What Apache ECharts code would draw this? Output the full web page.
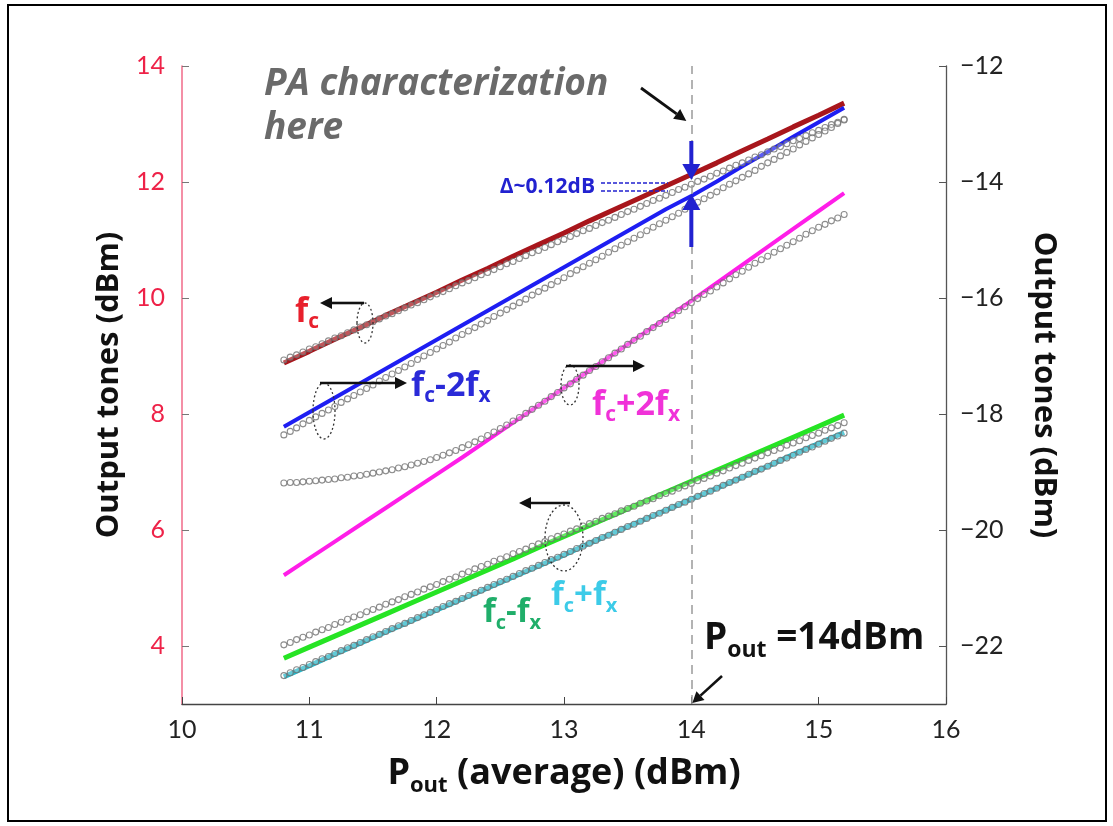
<!DOCTYPE html>
<html><head><meta charset="utf-8">
<script src="https://cdn.jsdelivr.net/npm/echarts@6/dist/echarts.min.js"></script>
<style>html,body{margin:0;padding:0;background:#fff}#c{width:1113px;height:826px}</style>
</head><body><div id="c"></div>
<script>
// ---------- DATA ----------
const xMeas = [10.8,11.0,11.2,11.4,11.6,11.8,12.0,12.2,12.4,12.6,12.8,13.0,13.2,13.4,13.6,13.8,14.0,14.2,14.4,14.6,14.8,15.0,15.2];
// measured tones
const fcMeas    = [8.88,9.08,9.29,9.49,9.70,9.90,10.10,10.31,10.51,10.72,10.92,11.12,11.33,11.53,11.73,11.93,12.13,12.33,12.54,12.74,12.95,13.15,13.36];           // left axis
const fcm2xMeas = [-18.22,-17.97,-17.72,-17.47,-17.22,-16.97,-16.72,-16.47,-16.22,-15.97,-15.72,-15.47,-15.22,-14.97,-14.72,-14.47,-14.24,-13.99,-13.73,-13.48,-13.22,-12.97,-12.72]; // right axis
const fcp2xMeas = [-20.78,-20.49,-20.20,-19.91,-19.62,-19.33,-19.04,-18.75,-18.45,-18.15,-17.85,-17.55,-17.25,-16.95,-16.65,-16.35,-16.05,-15.74,-15.43,-15.12,-14.81,-14.50,-14.19]; // right axis
const fcmxMeas  = [3.79,3.98,4.17,4.36,4.55,4.74,4.93,5.12,5.31,5.50,5.70,5.89,6.08,6.27,6.46,6.65,6.84,7.03,7.22,7.41,7.60,7.79,7.98];                   // left axis
const fcpxMeas  = [3.47,3.66,3.86,4.05,4.24,4.43,4.62,4.81,5.00,5.19,5.38,5.57,5.77,5.96,6.15,6.34,6.53,6.72,6.91,7.10,7.30,7.49,7.68];                   // left axis

const xSim = [10.8,10.85,10.9,10.95,11,11.05,11.1,11.15,11.2,11.25,11.3,11.35,11.4,11.45,11.5,11.55,11.6,11.65,11.7,11.75,
11.8,11.85,11.9,11.95,12,12.05,12.1,12.15,12.2,12.25,12.3,12.35,12.4,12.45,12.5,12.55,12.6,12.65,12.7,12.75,
12.8,12.85,12.9,12.95,13,13.05,13.1,13.15,13.2,13.25,13.3,13.35,13.4,13.45,13.5,13.55,13.6,13.65,13.7,13.75,
13.8,13.85,13.9,13.95,14,14.05,14.1,14.15,14.2,14.25,14.3,14.35,14.4,14.45,14.5,14.55,14.6,14.65,14.7,14.75,
14.8,14.85,14.9,14.95,15,15.05,15.1,15.15,15.2];
// simulated tones (circles)
const fcSim = [8.93,8.98,9.02,9.07,9.12,9.16,9.21,9.26,9.31,9.35,
9.40,9.45,9.50,9.54,9.59,9.64,9.69,9.73,9.78,9.83,
9.88,9.92,9.97,10.02,10.07,10.11,10.16,10.21,10.26,10.30,
10.35,10.40,10.44,10.49,10.54,10.59,10.63,10.68,10.73,10.78,
10.82,10.87,10.92,10.97,11.01,11.06,11.11,11.16,11.20,11.25,
11.30,11.34,11.39,11.44,11.49,11.53,11.58,11.63,11.68,11.72,
11.77,11.82,11.87,11.91,11.96,12.01,12.05,12.10,12.15,12.19,
12.24,12.29,12.33,12.38,12.43,12.47,12.52,12.57,12.61,12.66,
12.71,12.75,12.80,12.85,12.89,12.94,12.99,13.03,13.08];
const fcm2xSim = [-18.36,-18.30,-18.24,-18.17,-18.11,-18.05,-17.99,-17.93,-17.87,-17.80,
-17.74,-17.68,-17.62,-17.56,-17.50,-17.43,-17.37,-17.31,-17.25,-17.19,
-17.13,-17.06,-17.00,-16.94,-16.88,-16.82,-16.76,-16.69,-16.63,-16.57,
-16.51,-16.45,-16.39,-16.32,-16.26,-16.20,-16.14,-16.08,-16.02,-15.95,
-15.89,-15.83,-15.77,-15.71,-15.65,-15.58,-15.52,-15.46,-15.40,-15.34,
-15.28,-15.21,-15.15,-15.09,-15.03,-14.97,-14.91,-14.84,-14.78,-14.72,
-14.66,-14.60,-14.54,-14.47,-14.41,-14.35,-14.29,-14.23,-14.17,-14.10,
-14.04,-13.98,-13.92,-13.86,-13.80,-13.73,-13.67,-13.61,-13.55,-13.49,
-13.43,-13.36,-13.30,-13.24,-13.18,-13.12,-13.06,-12.99,-12.93];
const fcp2xSim = [-19.19,-19.18,-19.18,-19.17,-19.16,-19.15,-19.14,-19.13,-19.12,-19.10,
-19.09,-19.07,-19.06,-19.04,-19.02,-19.00,-18.98,-18.96,-18.93,-18.91,
-18.88,-18.85,-18.82,-18.79,-18.75,-18.71,-18.67,-18.63,-18.58,-18.53,
-18.48,-18.43,-18.37,-18.31,-18.25,-18.19,-18.12,-18.06,-17.99,-17.92,
-17.85,-17.78,-17.70,-17.63,-17.55,-17.48,-17.40,-17.33,-17.25,-17.18,
-17.10,-17.03,-16.95,-16.88,-16.80,-16.73,-16.66,-16.58,-16.51,-16.44,
-16.37,-16.30,-16.22,-16.15,-16.08,-16.01,-15.94,-15.88,-15.81,-15.74,
-15.67,-15.60,-15.54,-15.47,-15.40,-15.34,-15.28,-15.21,-15.15,-15.09,
-15.03,-14.97,-14.90,-14.84,-14.78,-14.73,-14.67,-14.62,-14.56];
const fcmxSim = [4.02,4.06,4.11,4.15,4.19,4.24,4.28,4.32,4.37,4.41,
4.46,4.50,4.54,4.59,4.63,4.67,4.72,4.76,4.80,4.85,
4.89,4.93,4.98,5.02,5.06,5.11,5.15,5.19,5.24,5.28,
5.33,5.37,5.41,5.46,5.50,5.54,5.59,5.63,5.67,5.72,
5.76,5.80,5.85,5.89,5.93,5.98,6.02,6.07,6.11,6.15,
6.20,6.24,6.28,6.33,6.37,6.41,6.46,6.50,6.54,6.59,
6.63,6.67,6.72,6.76,6.80,6.85,6.89,6.93,6.98,7.02,
7.07,7.11,7.15,7.20,7.24,7.28,7.33,7.37,7.41,7.46,
7.50,7.54,7.59,7.63,7.67,7.72,7.76,7.80,7.85];
const fcpxSim = [3.49,3.54,3.59,3.63,3.68,3.73,3.78,3.82,3.87,3.92,
3.97,4.01,4.06,4.11,4.16,4.20,4.25,4.30,4.35,4.39,
4.44,4.49,4.54,4.58,4.63,4.68,4.73,4.77,4.82,4.87,
4.92,4.96,5.01,5.06,5.11,5.15,5.20,5.25,5.30,5.34,
5.39,5.44,5.49,5.53,5.58,5.63,5.68,5.72,5.77,5.82,
5.87,5.91,5.96,6.01,6.06,6.10,6.15,6.20,6.25,6.29,
6.34,6.39,6.44,6.48,6.53,6.58,6.63,6.67,6.72,6.77,
6.82,6.86,6.91,6.96,7.01,7.05,7.10,7.15,7.20,7.24,
7.29,7.34,7.39,7.43,7.48,7.53,7.58,7.62,7.67];

const leftTicks  = [4,6,8,10,12,14];
const rightTicks = [-22,-20,-18,-16,-14,-12];
const markerX = 14;

// ---------- CHART ----------
const TICKFONT = 'Lato, "Open Sans", sans-serif';
const FONT = '"Open Sans", Lato, sans-serif';
const pairs = (xs, ys) => xs.map((x, i) => [x, ys[i]]);
const chart = echarts.init(document.getElementById('c'), null, {renderer: 'canvas'});

function measLine(name, xs, ys, color, w, yIdx, z) {
  return {name, type: 'line', data: pairs(xs, ys), yAxisIndex: yIdx, showSymbol: false, smooth: false,
    lineStyle: {color, width: w}, itemStyle: {color}, z: z || 2, silent: true};
}
function simDots(name, xs, ys, yIdx) {
  return {name, type: 'scatter', data: pairs(xs, ys), yAxisIndex: yIdx, symbol: 'circle', symbolSize: 6,
    itemStyle: {color: 'rgba(255,255,255,0.35)', borderColor: '#6f6f6f', borderWidth: 1.1}, z: 4, silent: true};
}

const option = {
  animation: false,
  backgroundColor: '#ffffff',
  grid: {left: 182, right: 167, top: 66, bottom: 122},
  xAxis: {
    type: 'value', min: 10, max: 16, interval: 1,
    axisLine: {lineStyle: {color: '#444', width: 1.3}},
    axisTick: {inside: true, length: 7, lineStyle: {color: '#444'}},
    axisLabel: {color: '#222', fontSize: 25, fontFamily: TICKFONT, margin: 13},
    splitLine: {show: false},
    name: '{b|P}{s|out}{b| (average) (dBm)}', nameLocation: 'middle', nameGap: 47,
    nameTextStyle: {rich: {
      b: {fontSize: 36, fontWeight: 'bold', color: '#111', fontFamily: FONT},
      s: {fontSize: 22, fontWeight: 'bold', color: '#111', fontFamily: FONT, padding: [24, 0, 0, 0]}
    }}
  },
  yAxis: [
    {type: 'value', position: 'left', min: 3, max: 14,
     axisLine: {show: true, lineStyle: {color: '#f06a88', width: 1.5}},
     axisTick: {show: true, inside: true, length: 7, customValues: leftTicks, lineStyle: {color: '#777'}},
     axisLabel: {customValues: leftTicks, color: '#ee2248', fontSize: 25, fontFamily: TICKFONT, margin: 17},
     splitLine: {show: false},
     name: 'Output tones (dBm)', nameLocation: 'middle', nameGap: 52,
     nameTextStyle: {fontSize: 31, fontWeight: 'bold', color: '#111', fontFamily: FONT}},
    {type: 'value', position: 'right', min: -23, max: -12,
     axisLine: {show: true, lineStyle: {color: '#555', width: 1.3}},
     axisTick: {show: true, inside: true, length: 7, customValues: rightTicks, lineStyle: {color: '#555'}},
     axisLabel: {customValues: rightTicks, color: '#222', fontSize: 25, fontFamily: TICKFONT, margin: 14,
       formatter: v => String(v).replace('-', '\u2212')},
     splitLine: {show: false},
     name: 'Output tones (dBm)', nameLocation: 'middle', nameGap: 82, nameRotate: -90,
     nameTextStyle: {fontSize: 31, fontWeight: 'bold', color: '#111', fontFamily: FONT}}
  ],
  series: [
    Object.assign(measLine('fc meas', xMeas, fcMeas, '#a8161c', 5, 0, 2), {
      markLine: {silent: true, symbol: 'none', label: {show: false},
        lineStyle: {color: '#9a9a9a', type: [9, 6], width: 1.5}, data: [{xAxis: markerX}]}
    }),
    measLine('fc-2fx meas', xMeas, fcm2xMeas, '#1e1ef2', 4, 1, 2),
    measLine('fc+2fx meas', xMeas, fcp2xMeas, '#ff1ee8', 4, 1, 3),
    measLine('fc-fx meas', xMeas, fcmxMeas, '#26e424', 5, 0, 2),
    measLine('fc+fx meas', xMeas, fcpxMeas, '#24b6c8', 5, 0, 2),
    simDots('fc sim', xSim, fcSim, 0),
    simDots('fc-2fx sim', xSim, fcm2xSim, 1),
    simDots('fc+2fx sim', xSim, fcp2xSim, 1),
    simDots('fc-fx sim', xSim, fcmxSim, 0),
    simDots('fc+fx sim', xSim, fcpxSim, 0)
  ]
};
chart.setOption(option);

// ---------- ANNOTATIONS ----------
function arrow(x1, y1, x2, y2, color, w, hl, hw) {
  const a = Math.atan2(y2 - y1, x2 - x1);
  const bx = x2 - hl * Math.cos(a), by = y2 - hl * Math.sin(a);
  const px = -Math.sin(a) * hw, py = Math.cos(a) * hw;
  return [
    {type: 'line', silent: true, z: 100, shape: {x1, y1, x2: bx, y2: by}, style: {stroke: color, lineWidth: w}},
    {type: 'polygon', silent: true, z: 100, shape: {points: [[x2, y2], [bx + px, by + py], [bx - px, by - py]]}, style: {fill: color}}
  ];
}
function ell(cx, cy, rx, ry, rot) {
  return {type: 'ellipse', silent: true, z: 99, x: cx, y: cy, rotation: rot || 0, shape: {cx: 0, cy: 0, rx, ry},
    style: {fill: 'none', stroke: '#333', lineWidth: 1.3, lineDash: [2, 2.5]}};
}
function subText(x, y, parts, color, size, align) {
  const rich = {
    m: {fontSize: size, fontWeight: 'bold', fill: color, fontFamily: FONT},
    s: {fontSize: Math.round(size * 0.62), fontWeight: 'bold', fill: color, fontFamily: FONT, padding: [Math.round(size * 0.62), 0, 0, 0]}
  };
  return {type: 'text', silent: true, z: 101, x, y,
    style: {text: parts, rich, align: align || 'left', verticalAlign: 'middle'}};
}
const X14 = chart.convertToPixel({xAxisIndex: 0}, markerX);
const BLUE = '#2222d0';
let g = [];
g.push({type: 'rect', silent: true, z: 0, shape: {x: 8, y: 5, width: 1098, height: 816},
  style: {fill: 'none', stroke: '#000', lineWidth: 2}});
g.push({type: 'text', silent: true, z: 101, x: 264, y: 84,
  style: {text: 'PA characterization', fill: '#6a6a6a', fontSize: 37, fontWeight: 'bold', fontStyle: 'italic', fontFamily: FONT, verticalAlign: 'middle'}});
g.push({type: 'text', silent: true, z: 101, x: 264, y: 128,
  style: {text: 'here', fill: '#6a6a6a', fontSize: 37, fontWeight: 'bold', fontStyle: 'italic', fontFamily: FONT, verticalAlign: 'middle'}});
g = g.concat(arrow(641, 88, X14 - 5, 121, '#111', 2.8, 12, 6));
// delta annotation
g.push({type: 'text', silent: true, z: 101, x: 595, y: 187,
  style: {text: '\u0394~0.12dB', fill: BLUE, fontSize: 21, fontWeight: 'bold', fontFamily: FONT, align: 'right', verticalAlign: 'middle'}});
g.push({type: 'line', silent: true, z: 100, shape: {x1: 601, y1: 183, x2: 668, y2: 183}, style: {stroke: BLUE, lineWidth: 1.4, lineDash: [4, 2]}});
g.push({type: 'line', silent: true, z: 100, shape: {x1: 601, y1: 191, x2: 668, y2: 191}, style: {stroke: BLUE, lineWidth: 1.4, lineDash: [4, 2]}});
g = g.concat(arrow(X14, 141, X14, 180, BLUE, 4, 16, 9));
g = g.concat(arrow(X14, 247, X14, 194, BLUE, 4, 16, 9));
// Pout = 14dBm
g.push({type: 'text', silent: true, z: 101, x: 704, y: 638,
  style: {text: '{m|P}{s|out}{m| =14dBm}', verticalAlign: 'middle', rich: {
    m: {fontSize: 37, fontWeight: 'bold', fill: '#111', fontFamily: FONT},
    s: {fontSize: 23, fontWeight: 'bold', fill: '#111', fontFamily: FONT, padding: [25, 0, 0, 0]}}}});
g = g.concat(arrow(722, 676, X14 + 1, 703, '#111', 2.6, 11, 6));
// tone labels
g.push(subText(295, 312, '{m|f}{s|c}', '#e8202c', 34));
g = g.concat(arrow(364, 303, 320, 303, '#111', 2.6, 12, 6));
g.push(ell(365, 323, 8, 20, 0));
g = g.concat(arrow(320, 383, 407, 383, '#111', 2.6, 12, 6));
g.push(ell(324, 411, 11, 28, 0));
g.push(subText(411, 386, '{m|f}{s|c}{m|-2f}{s|x}', '#2a2ad8', 34));
g = g.concat(arrow(566, 366, 645, 366, '#111', 2.6, 12, 6));
g.push(ell(570, 385, 9, 20, 0));
g.push(subText(592, 405, '{m|f}{s|c}{m|+2f}{s|x}', '#f032d8', 34));
g = g.concat(arrow(570, 503, 519, 503, '#111', 2.6, 12, 6));
g.push(ell(564, 538, 19, 33, 0));
g.push(subText(483, 613, '{m|f}{s|c}{m|-f}{s|x}', '#20ae6a', 33));
g.push(subText(551, 596, '{m|f}{s|c}{m|+f}{s|x}', '#3ccbe8', 33));
chart.setOption({graphic: {elements: g}});
</script></body></html>
